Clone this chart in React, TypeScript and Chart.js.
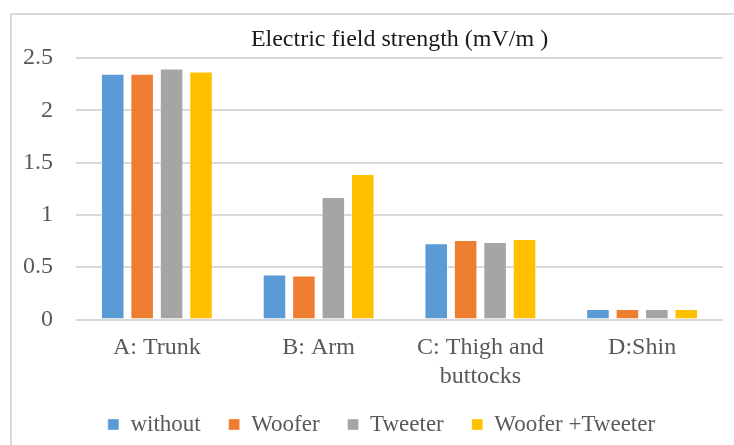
import React, { useEffect, useRef } from "react";
import { Chart, registerables } from "chart.js";

Chart.register(...registerables);

// Body regions on the x axis (multi-line labels as arrays)
const categories: (string | string[])[] = [
  "A: Trunk",
  "B: Arm",
  ["C: Thigh and", "buttocks"],
  "D:Shin",
];

// Electric field strength per configuration, mV/m
const withoutValues = [2.35, 0.43, 0.73, 0.1];
const wooferValues = [2.35, 0.42, 0.76, 0.1];
const tweeterValues = [2.4, 1.17, 0.74, 0.1];
const wooferTweeterValues = [2.37, 1.39, 0.77, 0.1];

const seriesNames = ["without", "Woofer", "Tweeter", "Woofer +Tweeter"];
const seriesColors = ["#5b9bd5", "#ed7d31", "#a5a5a5", "#ffc000"];

// Value axis: range, step and the labels shown at each step (bottom to top)
const yMin = 0;
const yMax = 2.5;
const yStep = 0.5;
const yTickLabels = ["0", "0.5", "1", "1.5", "2", "2.5"];

const titleText = "Electric field strength (mV/m )";

const FONT = "'Liberation Serif', 'Times New Roman', serif";
const LABEL_GRAY = "#595959";

export default function App() {
  const canvasRef = useRef<HTMLCanvasElement | null>(null);

  useEffect(() => {
    const canvas = canvasRef.current;
    if (!canvas) return;
    const seriesValues = [withoutValues, wooferValues, tweeterValues, wooferTweeterValues];

    const chart = new Chart(canvas, {
      type: "bar",
      data: {
        labels: categories,
        datasets: seriesNames.map((name, i) => ({
          label: name,
          data: seriesValues[i],
          backgroundColor: seriesColors[i],
          borderColor: "rgba(255,255,255,0.35)",
          borderWidth: 1,
          categoryPercentage: 0.728,
          barPercentage: 0.8,
        })),
      },
      options: {
        responsive: false,
        animation: false,
        devicePixelRatio: 1,
        layout: { padding: { left: 40, right: 11, top: 0, bottom: 0 } },
        plugins: {
          title: {
            display: true,
            text: titleText,
            fullSize: false,
            color: "#1a1a1a",
            font: { family: FONT, size: 24, weight: "normal", lineHeight: 1.2 },
            padding: { top: 25.6, bottom: 3.6 },
          },
          legend: {
            display: true,
            position: "bottom",
            labels: {
              color: LABEL_GRAY,
              font: { family: FONT, size: 23 },
              boxWidth: 11,
              boxHeight: 11,
              padding: 28,
            },
          },
          tooltip: { enabled: false },
        },
        scales: {
          x: {
            grid: { display: false, drawTicks: false },
            border: { display: false },
            ticks: {
              color: LABEL_GRAY,
              font: { family: FONT, size: 24, lineHeight: 1.2 },
              padding: 14,
              maxRotation: 0,
              autoSkip: false,
            },
            afterFit: (scale: any) => {
              scale.height = 65.5;
            },
          },
          y: {
            min: yMin,
            max: yMax,
            grid: { color: "#d9d9d9", lineWidth: 2, drawTicks: false },
            border: { display: false },
            ticks: {
              stepSize: yStep,
              color: LABEL_GRAY,
              font: { family: FONT, size: 24 },
              // labels sit left of the plot, right-aligned at a fixed column
              mirror: true,
              crossAlign: "far",
              padding: -53,
              callback: (_value: any, index: number) => yTickLabels[index],
            },
            afterFit: (scale: any) => {
              scale.width = 36;
            },
          },
        },
      },
    });

    return () => chart.destroy();
  }, []);

  return (
    <div
      style={{
        position: "fixed",
        left: 0,
        top: 0,
        width: 734,
        height: 445,
        overflow: "hidden",
        background: "#ffffff",
      }}
    >
      <div
        style={{
          position: "absolute",
          left: 10,
          top: 13,
          width: 740,
          height: 460,
          border: "2px solid #d9d9d9",
          boxSizing: "border-box",
        }}
      />
      <canvas
        ref={canvasRef}
        width={734}
        height={446}
        style={{ position: "absolute", left: 0, top: 0, width: 734, height: 446 }}
      />
    </div>
  );
}
